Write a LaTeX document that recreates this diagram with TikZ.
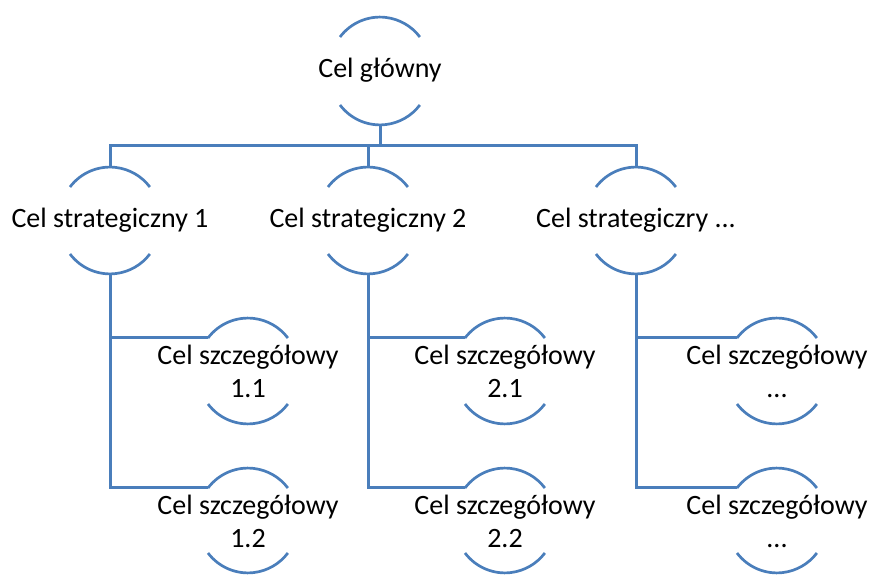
\documentclass[tikz,border=0pt]{standalone}
\usepackage{fontspec}
\setmainfont{Carlito}
\definecolor{linkblue}{HTML}{4A7EBB}
\tikzset{
  goaltext/.style={inner sep=0pt, align=center, font=\fontsize{28}{33}\selectfont, text=black},
  arcline/.style={draw=linkblue, line width=2.7pt},
  link/.style={draw=linkblue, line width=3pt}
}
% #1 name, #2 cx, #3 top peak y, #4 bottom peak y, #5 text y, #6 text
\newcommand\goalnode[6]{%
  \node[goaltext] (#1) at (#2,#5) {#6};
  \coordinate (#1-t) at (#2,#3);
  \coordinate (#1-b) at (#2,#4);
  \coordinate (#1-l) at ([shift={(-40,-20)}]#1-t);
  \draw[arcline] (#1-l) arc[start angle=143, end angle=37, radius=50pt];
  \draw[arcline] ([shift={(-40,20)}]#1-b) arc[start angle=217, end angle=323, radius=50pt];
}
\begin{document}
\begin{tikzpicture}[x=1pt,y=1pt]
\useasboundingbox (0,0) rectangle (874,575);
\goalnode{m}{380}{558}{450}{505}{Cel główny}
\goalnode{s1}{110}{408}{301}{355}{Cel strategiczny 1}
\goalnode{s2}{368}{408}{301}{355}{Cel strategiczny 2}
\goalnode{s3}{636}{408}{301}{355}{Cel strategiczry ...}
\goalnode{d11}{248}{257}{151}{204}{Cel szczegółowy\\1.1}
\goalnode{d12}{248}{107}{2}{54}{Cel szczegółowy\\1.2}
\goalnode{d21}{505}{257}{151}{204}{Cel szczegółowy\\2.1}
\goalnode{d22}{505}{107}{2}{54}{Cel szczegółowy\\2.2}
\goalnode{d31}{777}{257}{151}{204}{Cel szczegółowy\\...}
\goalnode{d32}{777}{107}{2}{54}{Cel szczegółowy\\...}
\coordinate (j) at (380,429);
\draw[link] (m-b) -- (j);
\draw[link] (s1-t) |- (j) -| (s3-t);
\draw[link] (s2-t) -- (s2-t |- j);
\draw[link] (s1-b) |- (d11-l);
\draw[link] (s1-b) |- (d12-l);
\draw[link] (s2-b) |- (d21-l);
\draw[link] (s2-b) |- (d22-l);
\draw[link] (s3-b) |- (d31-l);
\draw[link] (s3-b) |- (d32-l);
\end{tikzpicture}
\end{document}
